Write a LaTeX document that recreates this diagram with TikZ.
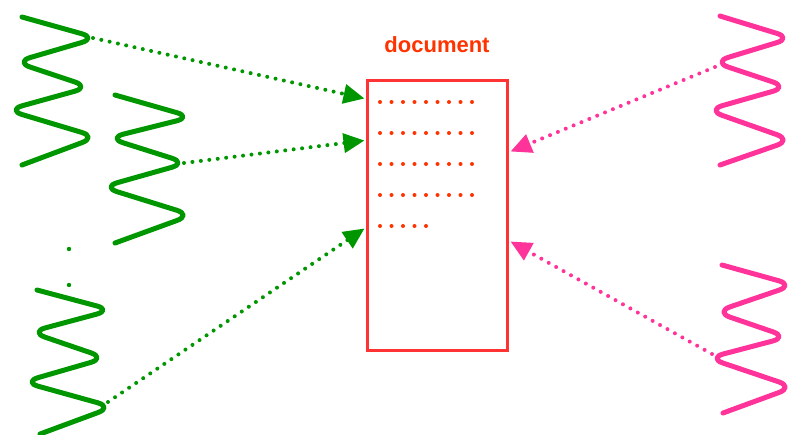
\documentclass[tikz,border=0pt]{standalone}
\usepackage{fontspec}
\setmainfont{Liberation Sans}
\usetikzlibrary{arrows.meta,calc}
\definecolor{wgreen}{RGB}{0,150,0}
\definecolor{wpink}{RGB}{255,51,153}
\definecolor{docred}{RGB}{255,51,51}
\definecolor{txtred}{RGB}{255,51,0}
\tikzset{
  wiggle/.style={line width=5pt, rounded corners=16pt, line cap=round, line join=round},
  link/.style={line width=4pt, line cap=round, dash pattern=on 0pt off 8.5pt,
    -{Triangle[length=21pt,width=19pt]}},
  rowdots/.style={draw=txtred, line width=4pt, line cap=round, dash pattern=on 0pt off 11.5pt},
  docbox/.style={draw=docred, line width=3pt, fill=white, minimum width=140pt, minimum height=270pt, inner sep=0pt},
  doclabel/.style={text=txtred, font=\fontsize{22}{25}\selectfont\bfseries}
}
\begin{document}
\begin{tikzpicture}[x=1pt,y=-1pt]
\useasboundingbox (0,0) rectangle (789,434);

% document box
\node[docbox] (doc) at (437,215) {};
\node[doclabel, anchor=base] (lbl) at (437,52) {document};

% text rows
\foreach \yy in {102,133,164,195} {
  \draw[rowdots] (380,\yy) -- (472,\yy);
}
\draw[rowdots] (380,226) -- (426,226);

% green wiggles
\draw[wiggle, wgreen] (22,17) -- (97,38) -- (15,62) -- (90,87) -- (7,110) -- (97,137) -- (22,165);
\draw[wiggle, wgreen] (115,95) -- (192,117) -- (108,138) -- (187,163) -- (102,187) -- (192,215) -- (115,243);
\draw[wiggle, wgreen] (37,290) -- (112,310) -- (30,332) -- (106,358) -- (23,382) -- (113,407) -- (40,434);

% vertical ellipsis dots
\fill[wgreen] (69,249) circle (2.2pt);
\fill[wgreen] (69,285) circle (2.2pt);

% pink wiggles
\draw[wiggle, wpink] (720,16) -- (792,38) -- (713,62) -- (788,87) -- (707,110) -- (792,140) -- (720,165);
\draw[wiggle, wpink] (722,265) -- (794,285) -- (715,312) -- (788,337) -- (708,358) -- (794,387) -- (723,413);

% connector end points
\coordinate (gs1) at (93,38);
\coordinate (gs2) at (184,163);
\coordinate (gs3) at (108,402);
\coordinate (ps1) at (715,67);
\coordinate (ps2) at (712,354);
\coordinate (gt1) at ($(doc.north west)+(-1,20)$);
\coordinate (gt2) at ($(doc.north west)+(-1,62)$);
\coordinate (gt3) at ($(doc.north west)+(-1,150)$);
\coordinate (pt1) at ($(doc.north east)+(2,73)$);
\coordinate (pt2) at ($(doc.north east)+(2,163)$);

\draw[link, wgreen] (gs1) -- (gt1);
\draw[link, wgreen] (gs2) -- (gt2);
\draw[link, wgreen] (gs3) -- (gt3);
\draw[link, wpink] (ps1) -- (pt1);
\draw[link, wpink] (ps2) -- (pt2);
\end{tikzpicture}
\end{document}
